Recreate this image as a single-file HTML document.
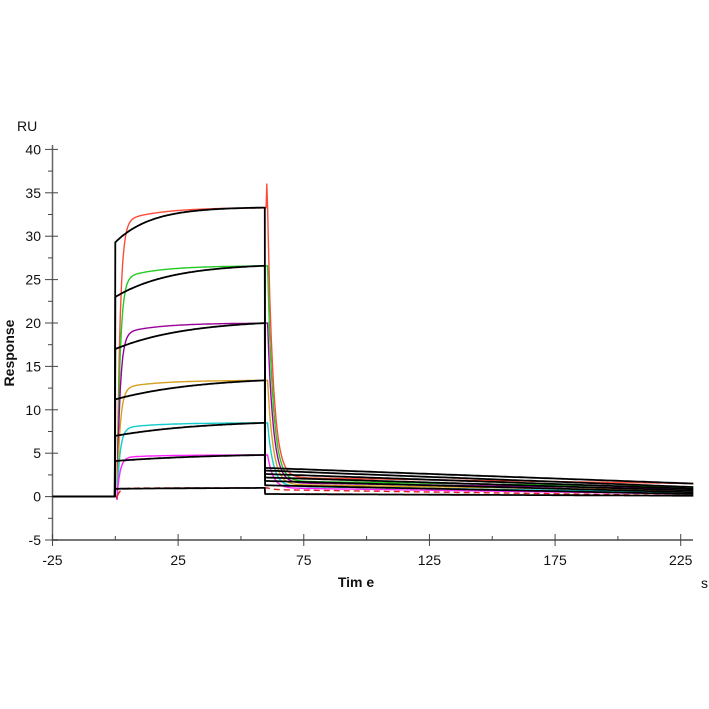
<!DOCTYPE html>
<html><head><meta charset="utf-8"><style>
html,body{margin:0;padding:0;background:#fff;}
svg{display:block;font-family:"Liberation Sans",Arial,sans-serif;}
</style></head><body>
<svg id="s" width="709" height="709" viewBox="0 0 709 709" xmlns="http://www.w3.org/2000/svg">
<rect width="709" height="709" fill="#fff"/>
<text x="17" y="131" font-size="14" fill="#111">RU</text>
<text transform="translate(14,353) rotate(-90)" font-size="14" font-weight="bold" text-anchor="middle" fill="#111">Response</text>
<text x="356" y="587" font-size="14" font-weight="bold" text-anchor="middle" fill="#111">Tim e</text>
<text x="701" y="588" font-size="14" fill="#111">s</text>
<g id="ax"></g>
<g id="cv" fill="none" stroke-linejoin="round"></g>
</svg>
<script>
var X=function(t){return 115.3+t*2.513;}, Y=function(v){return 496.6-v*8.68;};
var ax=document.getElementById('ax'), cv=document.getElementById('cv'), h='';
h+='<line x1="52.5" y1="145" x2="52.5" y2="541" stroke="#666" stroke-width="1.5"/>';
h+='<line x1="52" y1="540" x2="693" y2="540" stroke="#777" stroke-width="2"/>';
for(var v=-5;v<=40;v+=2.5){var y=Y(v);var maj=(v%5===0);
 h+='<line x1="'+(maj?45:48)+'" y1="'+y+'" x2="'+(maj?58:52.5)+'" y2="'+y+'" stroke="#444" stroke-width="1"/>';
 if(maj)h+='<text x="41" y="'+(y+5)+'" font-size="14" text-anchor="end" fill="#111">'+v+'</text>';}
for(var t=-25;t<=225;t+=25){var x=X(t);var maj=((t+25)%50===0);
 h+='<line x1="'+x+'" y1="'+(maj?534:536)+'" x2="'+x+'" y2="'+(maj?546:540)+'" stroke="#444" stroke-width="1"/>';
 if(maj)h+='<text x="'+x+'" y="565" font-size="14" text-anchor="middle" fill="#111">'+t+'</text>';}
ax.innerHTML=h;
var S=[[33.3,29.3,'#ff4a3a',3.3,1.5],[26.6,23.0,'#22cc22',3.0,1.1],[20.0,17.0,'#990099',2.6,0.9],[13.4,11.2,'#d4a020',2.2,0.7],[8.5,7.0,'#11cccc',1.8,0.5],[4.8,4.1,'#ff22ff',1.3,0.3],[1.0,0.9,'#dd2222',0.3,0.1]];
var K=[0.07,0.045,0.035,0.03,0.028,0.025,0.02];
var g='';
function path(pts,c,w,d){var s='M';for(var i=0;i<pts.length;i++)s+=(i?' L':'')+pts[i][0].toFixed(1)+' '+pts[i][1].toFixed(1);
 return '<path d="'+s+'" stroke="'+c+'" stroke-width="'+w+'"'+(d?' stroke-dasharray="'+d+'"':'')+'/>';}
for(var i=0;i<S.length;i++){var R=S[i][0],R0=S[i][1],c=S[i][2],d1=S[i][4];
 var p=[[X(-25),Y(0)],[X(0.5),Y(0)],[X(0.7),Y(-0.3)]];
 var A=R0+(R-R0)*0.55;
 for(var t=1;t<=60;t+=0.5){var v=(A+(R-A)*(1-Math.exp(-t/15)))*(1-Math.exp(-(t-0.7)/1.2));p.push([X(t),Y(v)]);}
 var dr=d1+0.7;
 if(i==0)p.push([X(60.3),Y(36)]);
 p.push([X(60.6),Y(R)]);
 for(var t=61;t<=230;t+=0.5){var e=t-60.6;var v=(R-dr)*Math.exp(-e/2.2)+dr-(dr-d1)*(e/170);p.push([X(t),Y(v)]);}
 g+=path(p,c,1.4,i==6?'6 4':null);
}
for(var i=0;i<S.length;i++){var R=S[i][0],R0=S[i][1],d0=S[i][3],d1=S[i][4];
 var p=[[X(-25),Y(0)],[X(-0.2),Y(0)],[X(0),Y(R0)]];
 var k=K[i];var E=Math.exp(-k*60);
 for(var t=0.5;t<=59.5;t+=0.5){var v=R0+(R-R0)*(1-Math.exp(-k*t))/(1-E); p.push([X(t),Y(v)]);}
 p.push([X(59.6),Y(d0)]);
 for(var t=60;t<=230;t+=1){p.push([X(t),Y(d0-(d0-d1)*(t-60)/170)]);}
 g+=path(p,'#000',1.8);
}
cv.innerHTML=g;
</script>
</body></html>
